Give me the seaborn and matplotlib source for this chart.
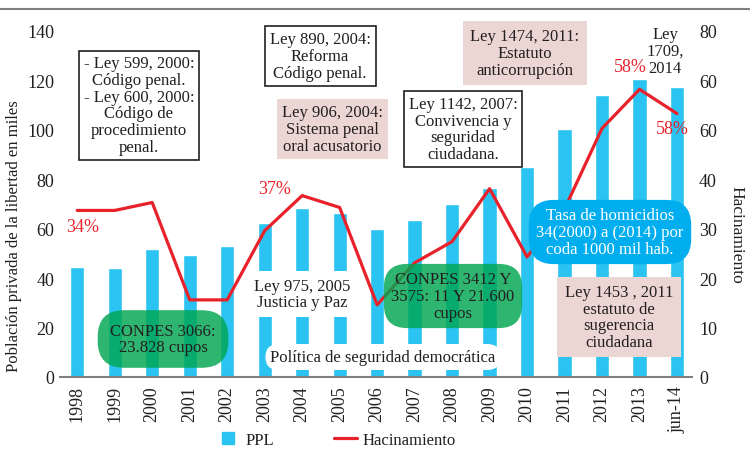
import numpy as np
import matplotlib
matplotlib.use("Agg")
import matplotlib.pyplot as plt
import seaborn as sns
from matplotlib.lines import Line2D

years = ["1998", "1999", "2000", "2001", "2002", "2003", "2004", "2005", "2006",
         "2007", "2008", "2009", "2010", "2011", "2012", "2013", "jun-14"]
ppl = [44.6, 44.3, 51.9, 49.2, 52.9, 62.3, 68.2, 66.5, 60.0,
       63.4, 69.9, 76.3, 84.8, 100.3, 114.0, 120.6, 117.2]
hacinamiento = [33.7, 33.7, 35.3, 15.6, 15.6, 29.6, 36.7, 34.3, 14.6,
                23.1, 27.4, 38.1, 24.3, 34.0, 50.3, 58.2, 53.3]
left_ticks = [0, 20, 40, 60, 80, 100, 120, 140]
right_ticks = [0, 10, 20, 30, 40, 50, 60, 70]
right_labels = ["0", "10", "20", "30", "40", "60", "60", "80"]

BAR = "#2BC3F1"
RED = "#E8212B"
INK = "#231F20"
PINK = "#ECD6D4"
GREEN = "#00A651"
BLUE = "#00AEEF"

sns.set_theme(style="white")
plt.rcParams["font.family"] = ["Liberation Serif", "DejaVu Serif"]

W, H = 750, 452
fig = plt.figure(figsize=(7.5, 4.52), dpi=100)
ax = fig.add_axes([60 / W, 1 - 378 / H, (692 - 60) / W, (378 - 32) / H])

sns.barplot(x=years, y=ppl, color=BAR, width=0.38, saturation=1, ax=ax)
ax.set_xlim(-0.46, len(years) - 0.6)
ax.set_ylim(0, 140)
ax.set_yticks(left_ticks)
ax.tick_params(axis="y", labelsize=13, colors=INK, length=0, pad=4)
ax.tick_params(axis="x", labelsize=13, colors=INK, length=0, pad=6, labelrotation=90)
for s in ["top", "left", "right"]:
    ax.spines[s].set_visible(False)
ax.spines["bottom"].set_color("#808080")
ax.spines["bottom"].set_linewidth(1.5)
ax.set_xlabel("")
ax.set_ylabel("Población privada de la libertad en miles", fontsize=12, color=INK, va="center")
ax.yaxis.set_label_coords(-0.072, 0.41)

ax2 = ax.twinx()
sns.lineplot(x=np.arange(len(years)), y=hacinamiento, color=RED, linewidth=2.3, ax=ax2)
ax2.set_ylim(0, 70)
ax2.set_yticks(right_ticks)
ax2.set_yticklabels(right_labels)
ax2.tick_params(axis="y", labelsize=13, colors=INK, length=0, pad=5)
for s in ["top", "left", "right", "bottom"]:
    ax2.spines[s].set_visible(False)
ax2.set_ylabel("Hacinamiento", fontsize=12.5, color=INK, rotation=270, va="center")
ax2.yaxis.set_label_coords(1.071, 0.413)


def px(x, y):
    return x / W, 1 - y / H


def note(x, y, s, fc="white", ec="none", color=INK, style="square,pad=0.3", size=12, alpha=1):
    fig.text(*px(x, y), s, ha="center", va="center", fontsize=size, color=color,
             linespacing=1.05,
             bbox=dict(boxstyle=style, fc=fc, ec=ec, lw=1.2, alpha=alpha))


note(139, 106, "- Ley 599, 2000:\nCódigo penal.\n- Ley 600, 2000:\nCódigo de\nprocedimiento\npenal.",
     ec=INK)
note(320, 57, "Ley 890, 2004:\nReforma\nCódigo penal.", ec=INK)
note(332, 130, "Ley 906, 2004:\nSistema penal\noral acusatorio", fc=PINK)
note(463, 130, "Ley 1142, 2007:\nConvivencia y\nseguridad\nciudadana.", ec=INK)
note(525, 54, "Ley 1474, 2011:\nEstatuto\nanticorrupción", fc=PINK, style="square,pad=0.45")
fig.text(*px(665, 52), "Ley\n1709,\n2014", ha="center", va="center", fontsize=12,
         color=INK, linespacing=1.05)
note(619, 318, "Ley 1453 , 2011\nestatuto de\nsugerencia\nciudadana", fc=PINK, style="square,pad=0.45")
note(302, 295, "Ley 975, 2005\nJusticia y Paz", style="square,pad=0.4")
note(383, 358, "Política de seguridad democrática", style="round,pad=0.3,rounding_size=0.8")
note(163, 340, "CONPES 3066:\n23.828 cupos", fc=GREEN, alpha=0.82,
     style="round,pad=0.75,rounding_size=1.6")
note(453, 297, "CONPES 3412 Y\n3575: 11 Y 21.600\ncupos", fc=GREEN, alpha=0.82,
     style="round,pad=0.45,rounding_size=1.4")
note(610, 233, "Tasa de homicidios\n34(2000) a (2014) por\ncoda 1000 mil hab.", fc=BLUE,
     color="white", style="round,pad=0.45,rounding_size=1.5")

for x, y, s in [(83, 228, "34%"), (275, 190, "37%"), (630, 68, "58%"), (672, 130, "58%")]:
    fig.text(*px(x, y), s, ha="center", va="center", fontsize=13, color=RED)

fig.add_artist(Line2D([0, 1], [1 - 10 / H, 1 - 10 / H], color="#808080", lw=1.5,
                      transform=fig.transFigure))

handles = [Line2D([], [], color=BAR, marker="s", ls="none", markersize=9, label="PPL"),
           Line2D([], [], color=RED, lw=2.3, label="Hacinamiento")]
fig.legend(handles=handles, loc="center", bbox_to_anchor=(336 / W, 1 - 441 / H), ncol=2,
           frameon=False, fontsize=12, handlelength=1.4, columnspacing=3.6,
           handletextpad=0.3, labelcolor=INK)

fig.savefig("out.png", dpi=100)
